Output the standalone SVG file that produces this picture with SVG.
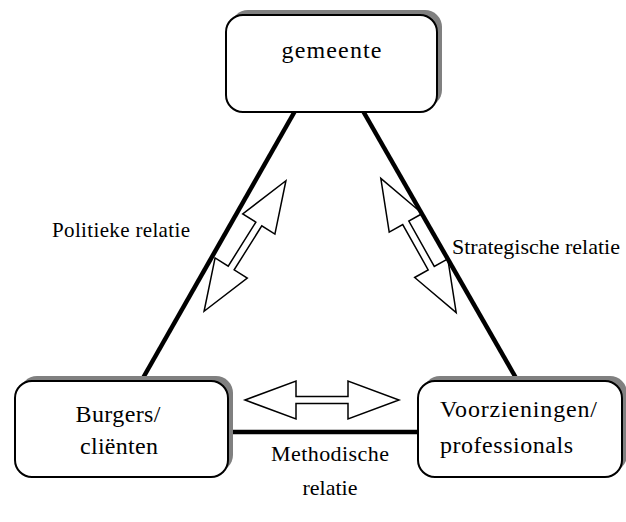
<svg xmlns="http://www.w3.org/2000/svg" width="626" height="522" viewBox="0 0 626 522">
<defs>
<style>
.box{fill:#fff;stroke:#000;stroke-width:2}
.shadow{fill:#808080}
.edge{stroke:#000;stroke-width:4.5;fill:none}
.arr{fill:#fff;stroke:#000;stroke-width:1.5;stroke-linejoin:miter}
.t{font-family:"Liberation Serif","DejaVu Serif",serif;font-size:22px;fill:#000}
.big{font-size:24px}
.tc{text-anchor:middle}
</style>
<path id="dblarrow" d="M -77,0 L -26,-19 L -26,-3.5 L 26,-3.5 L 26,-19 L 77,0 L 26,19 L 26,3.5 L -26,3.5 L -26,19 Z"/>
</defs>
<rect width="626" height="522" fill="#fff"/>
<g id="connectors">
<use href="#dblarrow" class="arr" transform="translate(245,246) rotate(-57.9)"/>
<use href="#dblarrow" class="arr" transform="translate(418.5,245.5) rotate(60.7)"/>
<use href="#dblarrow" class="arr" transform="translate(322,400)"/>
<line class="edge" x1="295" y1="111" x2="143" y2="378"/>
<line class="edge" x1="363" y1="111" x2="516" y2="378"/>
<line class="edge" x1="228" y1="432" x2="418" y2="432"/>
</g>
<g id="gemeente">
<rect class="shadow" x="231" y="10" width="211" height="97" rx="17"/>
<rect class="box" x="226" y="15" width="211" height="97" rx="17"/>
<text class="t big tc" x="331.5" y="58" textLength="100">gemeente</text>
</g>
<g id="burgers">
<rect class="shadow" x="20" y="376" width="213" height="96" rx="17"/>
<rect class="box" x="15" y="381" width="213" height="96" rx="17"/>
<text class="t big tc" x="118" y="422" textLength="85">Burgers/</text>
<text class="t big tc" x="119" y="454" textLength="78">cliënten</text>
</g>
<g id="voorzieningen">
<rect class="shadow" x="423" y="376" width="204" height="96" rx="17"/>
<rect class="box" x="418" y="381" width="204" height="96" rx="17"/>
<text class="t big" x="440" y="417" textLength="157">Voorzieningen/</text>
<text class="t big" x="440" y="453" textLength="133">professionals</text>
</g>
<g id="labels">
<text class="t" x="52" y="237" style="font-size:21px" textLength="138">Politieke relatie</text>
<text class="t" x="452" y="254">Strategische relatie</text>
<text class="t tc" x="330" y="461" textLength="118">Methodische</text>
<text class="t tc" x="330" y="495">relatie</text>
</g>
</svg>
